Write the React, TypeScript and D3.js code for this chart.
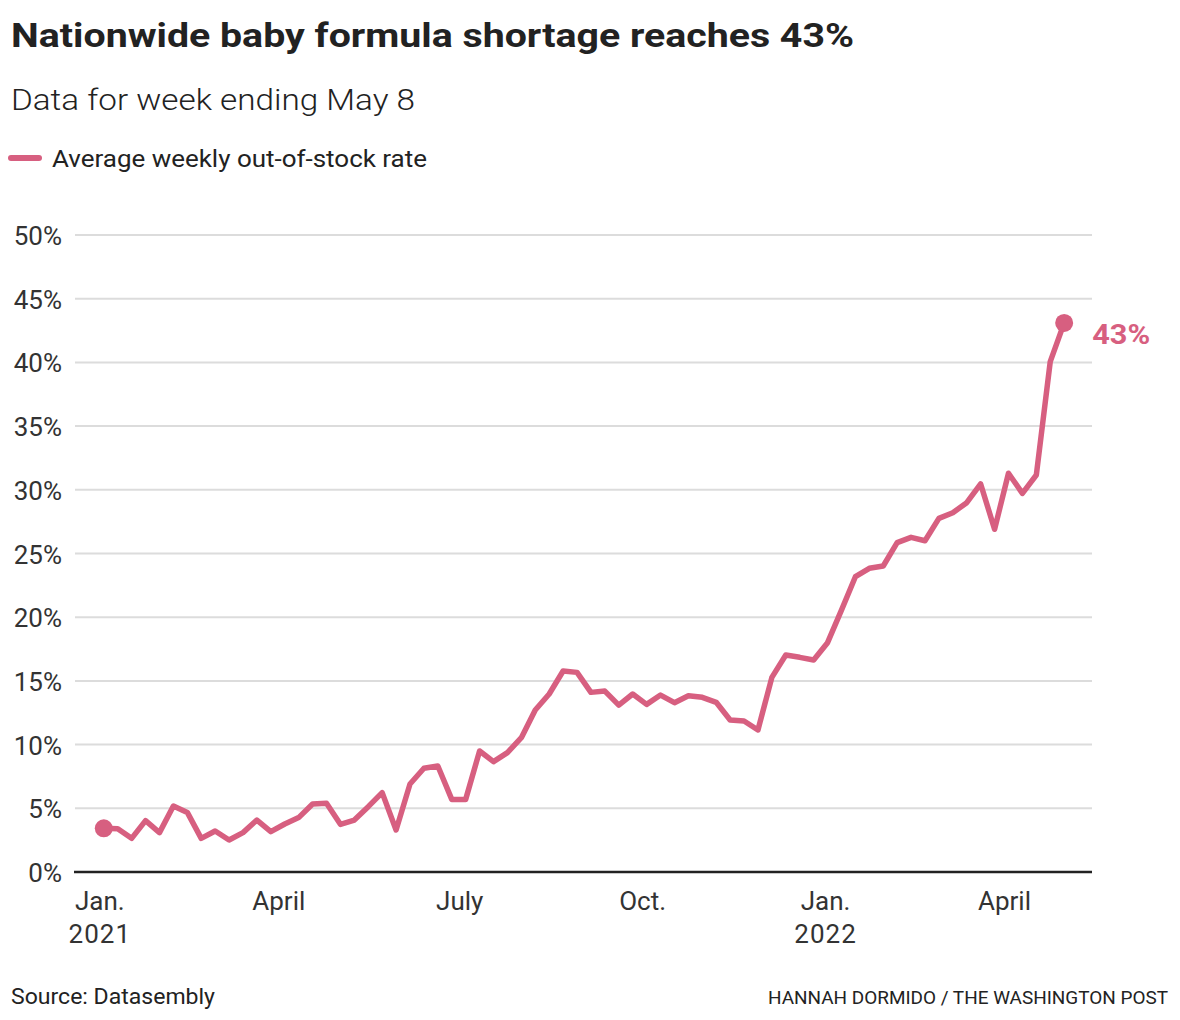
import React from "react";
import * as d3 from "d3";

const title = "Nationwide baby formula shortage reaches 43%";
const subtitle = "Data for week ending May 8";
const legendLabel = "Average weekly out-of-stock rate";
const sourceText = "Source: Datasembly";
const creditText = "HANNAH DORMIDO / THE WASHINGTON POST";

const startWeek = "2021-01-03";
const outOfStock: number[] = [
  3.43, 3.4, 2.64, 4.03, 3.09, 5.18, 4.68, 2.64, 3.22, 2.51,
  3.09, 4.08, 3.17, 3.77, 4.27, 5.34, 5.39, 3.74, 4.08, 5.13,
  6.23, 3.3, 6.91, 8.14, 8.32, 5.7, 5.7, 9.5, 8.66, 9.37,
  10.54, 12.72, 13.97, 15.78, 15.67, 14.1, 14.2, 13.1, 13.97, 13.16,
  13.89, 13.29, 13.84, 13.71, 13.32, 11.93, 11.85, 11.15, 15.28, 17.03,
  16.85, 16.64, 18.0, 20.56, 23.18, 23.84, 24.02, 25.85, 26.27, 26.0,
  27.76, 28.2, 28.99, 30.46, 26.9, 31.3, 29.72, 31.16, 40.06, 43.1,
];
const yTicks = [0, 5, 10, 15, 20, 25, 30, 35, 40, 45, 50];
const xTicks: { date: string; label: string; year?: string }[] = [
  { date: "2021-01-01", label: "Jan.", year: "2021" },
  { date: "2021-04-01", label: "April" },
  { date: "2021-07-01", label: "July" },
  { date: "2021-10-01", label: "Oct." },
  { date: "2022-01-01", label: "Jan.", year: "2022" },
  { date: "2022-04-01", label: "April" },
];
const endLabel = "43%";

const parse = (s: string) => {
  const [y, m, d] = s.split("-").map(Number);
  return new Date(y, m - 1, d);
};

const start = parse(startWeek);
const data = outOfStock.map((v, i) => ({ date: d3.timeDay.offset(start, i * 7), value: v }));

const W = 1180;
const H = 1020;
const PINK = "#d75f80";
const FONT = "Roboto, 'Noto Sans', sans-serif";

export default function App() {
  const x = d3
    .scaleTime()
    .domain([parse("2020-12-17"), parse("2022-05-15")])
    .range([70, 1092]);
  const y = d3.scaleLinear().domain([0, 50]).range([872, 235]);
  const line = d3
    .line<{ date: Date; value: number }>()
    .x((d) => x(d.date))
    .y((d) => y(d.value))
    .curve(d3.curveLinear);
  const first = data[0];
  const last = data[data.length - 1];

  return (
    <svg
      width={W}
      height={H}
      style={{ position: "absolute", left: 0, top: 0, background: "#fff" }}
      fontFamily={FONT}
    >
      <text x={11} y={47} fontSize={33} fontWeight={700} fill="#222" textLength={843} lengthAdjust="spacingAndGlyphs">
        {title}
      </text>
      <text x={11} y={110} fontSize={29} fontWeight={300} fill="#222" textLength={404} lengthAdjust="spacingAndGlyphs">
        {subtitle}
      </text>
      <line x1={11} x2={39} y1={158} y2={158} stroke={PINK} strokeWidth={6} strokeLinecap="round" />
      <text x={52} y={167} fontSize={24} fontWeight={400} fill="#222" textLength={375} lengthAdjust="spacingAndGlyphs">
        {legendLabel}
      </text>

      {yTicks.map((t) => (
        <g key={t}>
          {t > 0 && (
            <line x1={75} x2={1092} y1={y(t)} y2={y(t)} stroke="#dcdcdc" strokeWidth={2} />
          )}
          <text x={62} y={y(t) + 10} textAnchor="end" fontSize={26} fill="#333">
            {t}%
          </text>
        </g>
      ))}
      <line x1={74} x2={1092} y1={y(0)} y2={y(0)} stroke="#222" strokeWidth={2.5} />

      {xTicks.map((t) => (
        <g key={t.date}>
          <text x={x(parse(t.date))} y={910} textAnchor="middle" fontSize={26} fill="#333">
            {t.label}
          </text>
          {t.year && (
            <text x={x(parse(t.date))} y={943} textAnchor="middle" fontSize={26} fill="#333" letterSpacing={1}>
              {t.year}
            </text>
          )}
        </g>
      ))}

      <path d={line(data) ?? ""} fill="none" stroke={PINK} strokeWidth={5.5} strokeLinejoin="round" strokeLinecap="round" />
      <circle cx={x(first.date)} cy={y(first.value)} r={9} fill={PINK} />
      <circle cx={x(last.date)} cy={y(last.value)} r={9} fill={PINK} />
      <text x={x(last.date) + 28} y={y(last.value) + 21} fontSize={27} fontWeight={700} fill={PINK} textLength={58} lengthAdjust="spacingAndGlyphs">
        {endLabel}
      </text>

      <text x={11} y={1004} fontSize={22} fill="#222" textLength={204} lengthAdjust="spacingAndGlyphs">
        {sourceText}
      </text>
      <text x={1168} y={1004} textAnchor="end" fontSize={19} fill="#222" textLength={400} lengthAdjust="spacingAndGlyphs">
        {creditText}
      </text>
    </svg>
  );
}
